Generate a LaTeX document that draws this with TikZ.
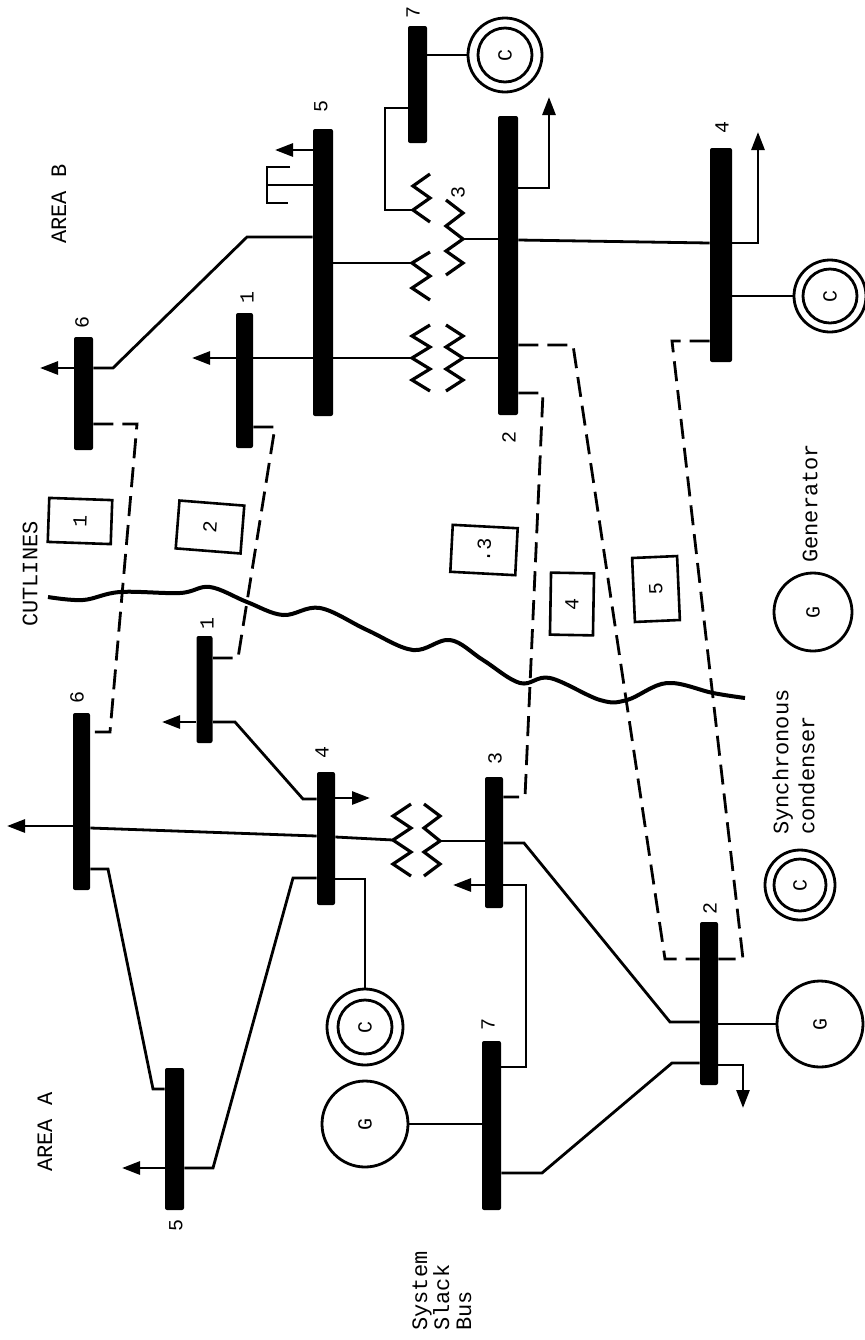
\documentclass[tikz,border=0pt]{standalone}
\usepackage{fontspec}
\setmainfont{Liberation Mono}
\usetikzlibrary{arrows.meta}

\tikzset{
  bus/.style={fill=black, inner sep=0pt, minimum width=9.5pt, rounded corners=1pt},
  wire/.style={line width=1.4pt},
  coil/.style={line width=1.6pt},
  tie/.style={line width=1.4pt, dash pattern=on 10pt off 4.5pt},
  load/.style={wire, -{Triangle[length=9pt,width=6.5pt]}},
  num/.style={rotate=90, inner sep=0pt, font=\fontsize{10}{10}\selectfont},
  txt/.style={rotate=90, inner sep=0pt, font=\fontsize{11}{13}\selectfont},
  gen/.style={circle, draw, line width=1.4pt, minimum size=43pt, inner sep=0pt,
    rotate=90, font=\fontsize{10}{10}\selectfont},
  cond/.style={circle, draw, line width=1.4pt, minimum size=37pt, inner sep=0pt,
    rotate=90, font=\fontsize{10}{10}\selectfont},
  cutbox/.style={draw, line width=1.3pt, inner sep=0pt, font=\fontsize{10}{10}\selectfont},
}

\begin{document}
\begin{tikzpicture}[x=0.5pt, y=-0.5pt]

	\useasboundingbox (0,0) rectangle (865,1340);

	% buses, area B
	\node[bus, minimum height=56.5pt] (bB6) at (83.5,393.5) {};
	\node[bus, minimum height=67.5pt, minimum width=8.5pt] (bB1) at (244.5,380.5) {};
	\node[bus, minimum height=143.5pt, minimum width=10pt] (bB5) at (323,272.5) {};
	\node[bus, minimum height=58.5pt] (bB7) at (417.5,84.5) {};
	\node[bus, minimum height=149.5pt, minimum width=10pt] (bB2) at (508,265.5) {};
	\node[bus, minimum height=107pt, minimum width=11pt] (bB4) at (721,255) {};
	% buses, area A
	\node[bus, minimum height=88.5pt, minimum width=8.5pt] (bA6) at (81.5,801.5) {};
	\node[bus, minimum height=53.5pt, minimum width=8pt] (bA1) at (204.5,689.5) {};
	\node[bus, minimum height=66.5pt, minimum width=9pt] (bA4) at (326,838.5) {};
	\node[bus, minimum height=65.5pt, minimum width=9pt] (bA3) at (494,842.5) {};
	\node[bus, minimum height=71pt] (bA5) at (174.5,1139) {};
	\node[bus, minimum height=84.5pt] (bA7) at (491.5,1125.5) {};
	\node[bus, minimum height=81.5pt, minimum width=9pt] (bA2) at (709,1003.5) {};

	% bus numbers
	\node[num] at (82,322) {6};
	\node[num] at (247,297) {1};
	\node[num] at (321,106) {5};
	\node[num] at (413,12) {7};
	\node[num] at (509,437) {2};
	\node[num] at (722,127) {4};
	\node[num] at (77,697) {6};
	\node[num] at (207,623) {1};
	\node[num] at (322,752) {4};
	\node[num] at (495,758) {3};
	\node[num] at (176,1225) {5};
	\node[num] at (488,1024) {7};
	\node[num] at (710,908) {2};

	% machines
	\node[cond] (cB7) at (505,55) {C};
	\node[cond, minimum size=36pt] (cB4) at (830,296) {C};
	\node[cond, minimum size=38pt] (cA4) at (365,1027) {C};
	\node[gen] (gA7) at (365,1124) {G};
	\node[gen] (gA2) at (820,1024) {G};
	\draw[wire] (cB7.center) circle (13.5pt);
	\draw[wire] (cB4.center) circle (13.5pt);
	\draw[wire] (cA4.center) circle (13.5pt);

	% transformer windings
	\draw[coil] (430,325) -- (412,336) -- (430,347) -- (412,358) coordinate (t1a)
		-- (430,369) -- (412,380) -- (430,391);
	\draw[coil] (446,325) -- (463,336) -- (446,347) -- (463,358) coordinate (t1b)
		-- (446,369) -- (463,380) -- (446,391);
	\draw[coil] (430,174) -- (413,186) -- (430,198) -- (413,210) coordinate (t2a) -- (430,222);
	\draw[coil] (430,252) -- (412,263) coordinate (t2b) -- (430,276) -- (412,288) -- (430,300);
	\draw[coil] (446,200) -- (463,213) -- (446,226) -- (463,239) coordinate (t2c)
		-- (446,251) -- (463,263) -- (446,275);
	\node[num] at (458,192) {3};
	\draw[coil] (411,804) -- (393,816) -- (411,828) -- (393,840) coordinate (t3a)
		-- (411,852) -- (393,864) -- (411,876);
	\draw[coil] (424,804) -- (440,816) -- (424,828) -- (440,841) coordinate (t3b)
		-- (424,852) -- (440,864) -- (424,876);

	% area B lines
	\draw[load] (bB6.west |- 0,368) -- (40,368);
	\draw[wire] (bB6.east |- 0,368) -- (113,368) -- (247,237) -- (bB5.west |- 0,237);
	\draw[load] (bB1.west |- 0,358) -- (192,358);
	\draw[wire] (bB1.east |- 0,358) -- (t1a);
	\draw[load] (bB5.west |- 0,150) -- (275,150);
	\draw[wire] (bB5.west |- 0,185) -- (267,185);
	\draw[wire] (290,167) -- (267,167) -- (267,203) -- (288,203);
	\draw[wire] (bB5.east |- 0,263) -- (t2b);
	\draw[wire] (bB7.west |- 0,108) -- (385,108) -- (385,210) -- (t2a);
	\draw[wire] (bB7.east |- 0,55) -- (cB7);
	\draw[wire] (t2c) -- (bB2.west |- 0,239);
	\draw[wire] (bB2.east |- 0,240) -- (bB4.west |- 0,243);
	\draw[wire] (t1b) -- (bB2.west |- 0,358);
	\draw[load] (bB2.east |- 0,188) -- (549,188) -- (549,97);
	\draw[load] (bB4.east |- 0,243) -- (758,243) -- (758,132);
	\draw[wire] (bB4.east |- 0,296) -- (cB4);

	% tie lines
	\draw[tie] (bB6.east |- 0,424) -- (137,424) -- (110,732) -- (bA6.east |- 0,732);
	\draw[tie] (bB1.east |- 0,427) -- (275,427) -- (238,658) -- (bA1.east |- 0,658);
	\draw[tie] (bB2.east |- 0,393) -- (543,393) -- (525,797) -- (bA3.east |- 0,797);
	\draw[tie] (bB2.east |- 0,345) -- (573,345) -- (665,959) -- (bA2.west |- 0,959);
	\draw[tie] (bB4.west |- 0,341) -- (672,341) -- (743,959) -- (bA2.east |- 0,959);

	% area A lines
	\draw[load] (bA6.west |- 0,826) -- (7,826);
	\draw[wire] (bA6.east |- 0,828) -- (bA4.west |- 0,836);
	\draw[wire] (bA4.east |- 0,837) -- (t3a);
	\draw[load] (bA1.west |- 0,722) -- (162,722);
	\draw[wire] (bA1.east |- 0,722) -- (235,722) -- (303,799) -- (bA4.west |- 0,799);
	\draw[load] (bA4.east |- 0,798) -- (370,798);
	\draw[wire] (t3b) -- (bA3.west |- 0,841);
	\draw[load] (bA3.west |- 0,885) -- (453,885);
	\draw[wire] (bA3.east |- 0,885) -- (526,885) -- (526,1067) -- (bA7.east |- 0,1067);
	\draw[wire] (bA3.east |- 0,843) -- (524,843) -- (670,1022) -- (bA2.west |- 0,1022);
	\draw[wire] (bA2.east |- 0,1024) -- (gA2);
	\draw[load] (bA2.east |- 0,1065) -- (743,1065) -- (743,1108);
	\draw[wire] (bA7.east |- 0,1173) -- (542,1173) -- (672,1063) -- (bA2.west |- 0,1063);
	\draw[wire] (bA7.west |- 0,1124) -- (gA7);
	\draw[wire] (bA4.east |- 0,879) -- (365,879) -- (cA4);
	\draw[wire] (bA4.west |- 0,878) -- (293,878) -- (213,1168) -- (bA5.east |- 0,1168);
	\draw[wire] (bA6.east |- 0,869) -- (108,869) -- (153,1089) -- (bA5.west |- 0,1089);
	\draw[load] (bA5.west |- 0,1168) -- (122,1168);

	% cut line
	\draw[line width=2pt] plot[smooth, tension=0.6] coordinates {(48,597) (83,600) (120,592)
		(180,593) (210,587) (247,602) (283,615) (320,608) (367,630) (413,650) (450,640)
		(483,660) (520,683) (550,678) (600,700) (627,700) (667,683) (713,693) (745,698)};

	% cut boxes
	\node[cutbox, minimum width=22pt, minimum height=31.5pt, rotate=88] (k1) at (80,521) {1};
	\node[cutbox, minimum width=24pt, minimum height=32.5pt, rotate=85.5] (k2) at (210,527) {2};
	\node[cutbox, minimum width=23.5pt, minimum height=32.5pt, rotate=87] (k3) at (484,550) {.3};
	\node[cutbox, minimum width=31pt, minimum height=21.5pt, rotate=89] (k4) at (572,604) {4};
	\node[cutbox, minimum width=32pt, minimum height=22.5pt, rotate=92.5] (k5) at (656,589) {5};

	% texts
	\node[txt] at (59,204) {AREA B};
	\node[txt] at (45,1132) {AREA A};
	\node[txt] at (30,574) {CUTLINES};
	\node[txt, align=left, anchor=north west, font=\fontsize{11}{11}\selectfont]
		at (412,1331) {System\\Slack\\Bus};

	% legend
	\node[gen, minimum size=39pt] (gLeg) at (813,612) {G};
	\node[txt, anchor=west] at (810,563) {Generator};
	\node[cond, minimum size=35pt] (cLeg) at (800,885) {C};
	\draw[wire] (cLeg.center) circle (13pt);
	\node[txt, align=left, anchor=north west] at (772,835) {Synchronous\\condenser};

\end{tikzpicture}
\end{document}
